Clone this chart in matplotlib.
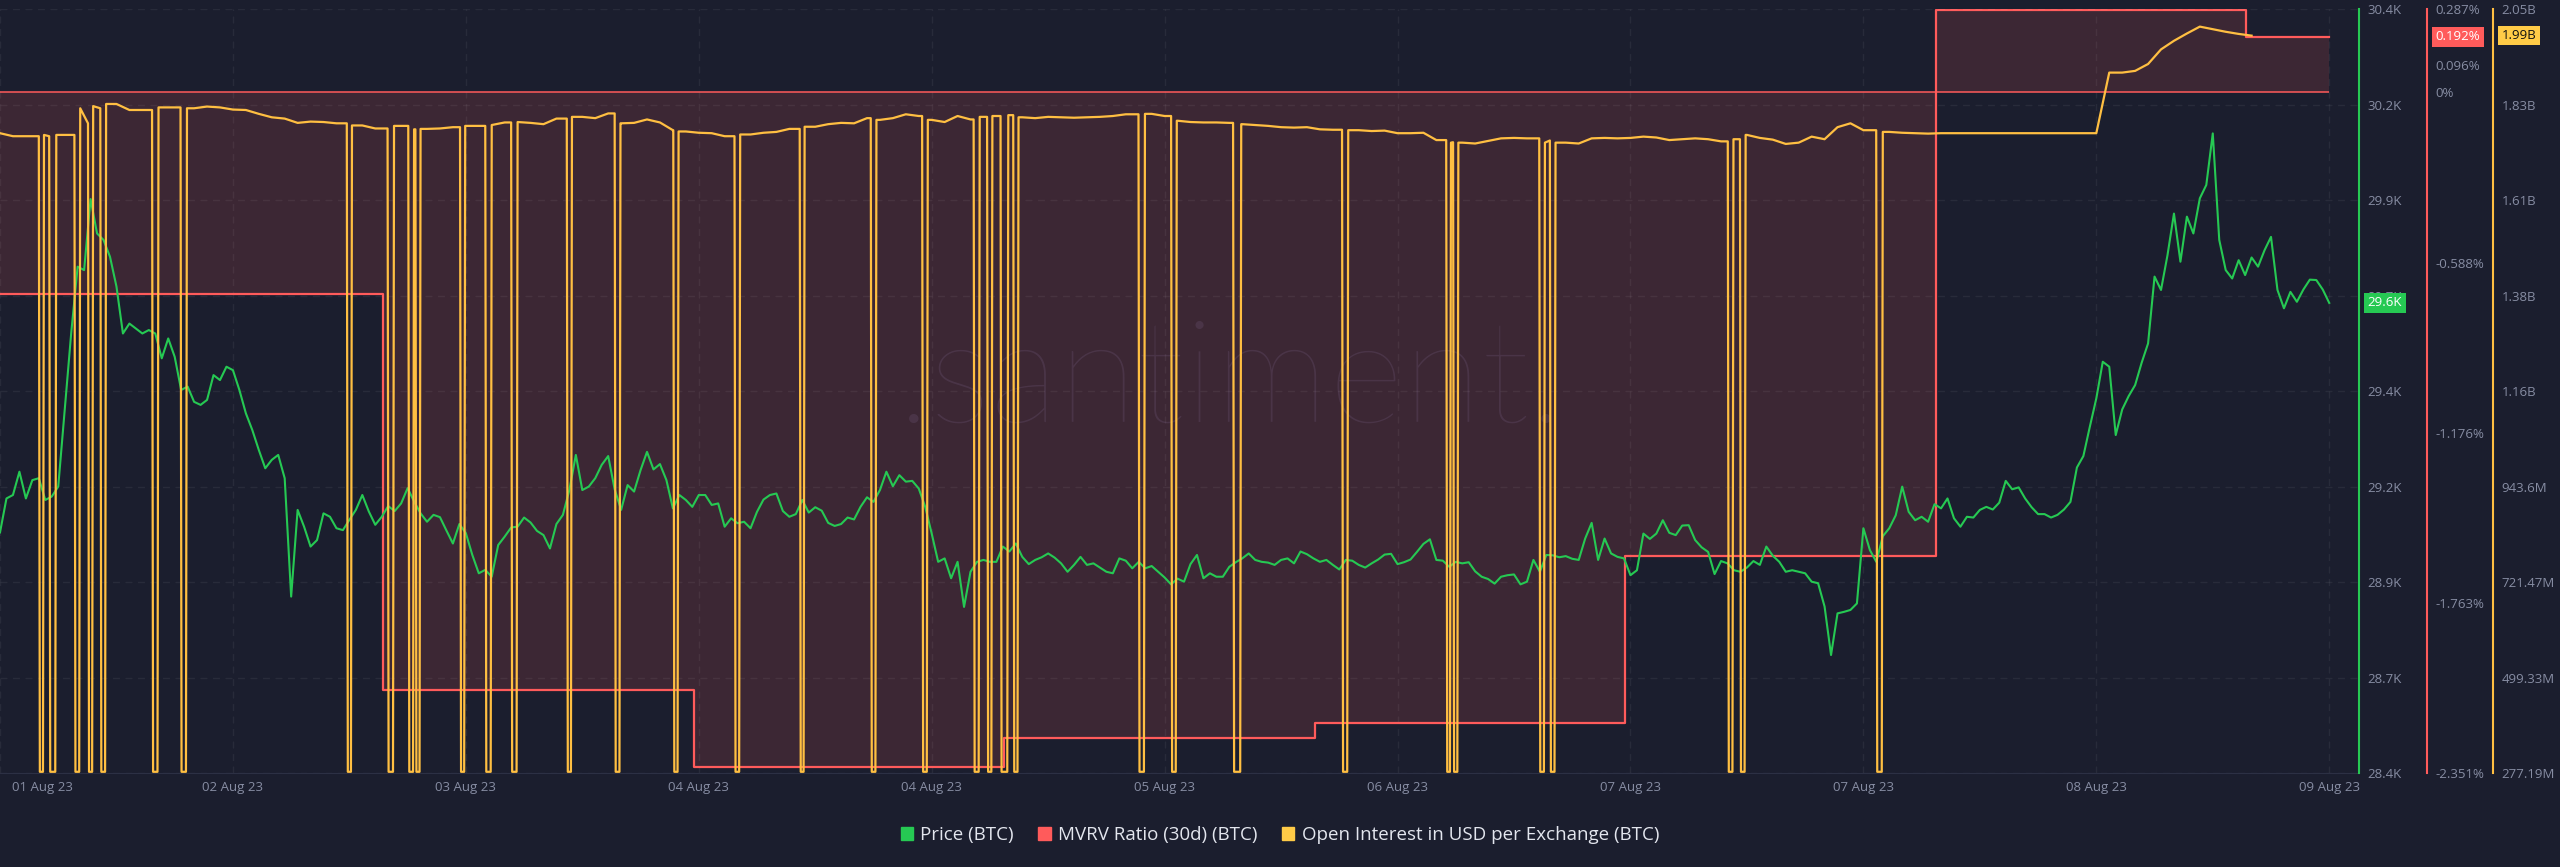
import numpy as np
import matplotlib
matplotlib.use('Agg')
import matplotlib.pyplot as plt
from matplotlib.patches import Patch
from matplotlib.transforms import blended_transform_factory, ScaledTranslation

plt.rcParams['font.family'] = ['Open Sans', 'DejaVu Sans']

BG = '#1b1e2e'
GREEN = '#26c953'
RED = '#ff5b5b'
YELLOW = '#ffbf42'
TXT = '#878da3'

# BTC price, every 30 min starting 01 Aug 23 ~18:00 (USD)
price = [
    29030, 29119, 29128, 29189, 29119, 29167, 29172, 29115, 29124, 29150, 29351, 29551, 29726, 29717, 29903, 29813, 29796, 29752, 29674, 29551,
    29577, 29564, 29551, 29560, 29551, 29486, 29538, 29490, 29403, 29412, 29372, 29364, 29377, 29442, 29429, 29464, 29455, 29403, 29342, 29298,
    29246, 29198, 29220, 29233, 29172, 28862, 29089, 29045, 28993, 29010, 29080, 29071, 29041, 29036, 29063, 29089, 29128, 29085, 29050, 29071,
    29099, 29086, 29106, 29146, 29111, 29080, 29058, 29076, 29070, 29035, 29001, 29052, 29028, 28971, 28923, 28932, 28914, 28997, 29019, 29043,
    29045, 29069, 29056, 29034, 29023, 28988, 29052, 29076, 29141, 29233, 29141, 29150, 29172, 29207, 29230, 29143, 29089, 29154, 29137, 29193,
    29241, 29195, 29209, 29167, 29093, 29128, 29115, 29097, 29128, 29128, 29102, 29106, 29045, 29067, 29054, 29058, 29041, 29084, 29116, 29128,
    29132, 29086, 29071, 29078, 29115, 29082, 29096, 29087, 29055, 29047, 29052, 29069, 29064, 29097, 29122, 29110, 29141, 29189, 29151, 29180,
    29163, 29165, 29145, 29097, 29027, 28953, 28962, 28910, 28953, 28835, 28927, 28953, 28958, 28953, 28953, 28993, 28980, 29001, 28966, 28947,
    28958, 28965, 28975, 28964, 28949, 28927, 28945, 28966, 28945, 28949, 28938, 28927, 28923, 28962, 28956, 28936, 28953, 28936, 28942, 28927,
    28912, 28894, 28909, 28901, 28947, 28971, 28910, 28923, 28914, 28914, 28940, 28952, 28962, 28975, 28958, 28953, 28951, 28945, 28958, 28962,
    28949, 28980, 28973, 28962, 28953, 28958, 28945, 28933, 28958, 28956, 28945, 28938, 28949, 28959, 28972, 28974, 28947, 28952, 28959, 28979,
    29000, 29012, 28958, 28956, 28940, 28953, 28949, 28952, 28928, 28914, 28908, 28896, 28914, 28918, 28920, 28894, 28901, 28958, 28927, 28971,
    28970, 28965, 28968, 28961, 28958, 29014, 29055, 28958, 29014, 28975, 28966, 28962, 28918, 28931, 29027, 29013, 29027, 29062, 29029, 29023,
    29048, 29049, 29010, 28991, 28979, 28921, 28955, 28949, 28931, 28927, 28938, 28955, 28945, 28993, 28969, 28953, 28927, 28931, 28927, 28923,
    28901, 28897, 28836, 28709, 28818, 28822, 28827, 28844, 29041, 28984, 28953, 29020, 29041, 29075, 29150, 29084, 29062, 29071, 29058, 29104,
    29093, 29119, 29067, 29045, 29071, 29069, 29089, 29097, 29090, 29108, 29165, 29143, 29148, 29119, 29096, 29078, 29078, 29069, 29076, 29090,
    29110, 29200, 29230, 29307, 29381, 29477, 29464, 29285, 29352, 29387, 29416, 29474, 29525, 29700, 29665, 29756, 29865, 29739, 29857, 29813,
    29905, 29940, 30075, 29796, 29717, 29695, 29743, 29704, 29750, 29726, 29769, 29804, 29665, 29617, 29660, 29634, 29666, 29692, 29691, 29666,
    29631,
]
price_hours = np.arange(len(price)) * 0.5

# MVRV ratio (30d), one value per day, in %
mvrv_start = [0, 29.6, 53.6, 77.6, 101.6, 125.6, 149.6, 173.6]
mvrv_value = [-0.696, -2.064, -2.329, -2.231, -2.179, -1.600, 0.285, 0.192]

# open interest, hourly (million USD)
oi_level = [
    1766, 1759, 1759, 1759, 1762, 1762, 1789, 1824, 1829, 1834,
    1820, 1820, 1820, 1826, 1800, 1824, 1828, 1826, 1821, 1820,
    1811, 1803, 1800, 1790, 1793, 1792, 1789, 1787, 1784, 1777,
    1780, 1783, 1775, 1776, 1777, 1780, 1783, 1783, 1785, 1791,
    1792, 1790, 1787, 1800, 1812, 1804, 1801, 1812, 1789, 1790,
    1798, 1791, 1773, 1770, 1767, 1766, 1759, 1759, 1763, 1767,
    1769, 1776, 1781, 1781, 1787, 1790, 1789, 1801, 1797, 1801,
    1810, 1806, 1797, 1792, 1806, 1798, 1804, 1806, 1808, 1803,
    1801, 1804, 1803, 1802, 1803, 1804, 1806, 1810, 1810, 1811,
    1806, 1795, 1792, 1791, 1791, 1790, 1787, 1785, 1783, 1780,
    1779, 1780, 1775, 1774, 1773, 1773, 1771, 1772, 1766, 1766,
    1767, 1750, 1745, 1744, 1742, 1748, 1754, 1755, 1754, 1749,
    1744, 1744, 1742, 1754, 1755, 1754, 1755, 1758, 1756, 1750,
    1752, 1754, 1752, 1747, 1752, 1762, 1755, 1751, 1741, 1744,
    1758, 1752, 1780, 1789, 1773, 1762, 1769, 1767, 1766, 1765,
    1766, 1766, 1766, 1766, 1766, 1766, 1766, 1766, 1766, 1766,
    1766, 1766, 1766, 1907, 1907, 1911, 1927, 1961, 1981, 1998,
    2014, 2008, 2002, 1997, 1993,
]
oi_hours = np.arange(len(oi_level))
# periods (start, end hour) where the feed drops to the floor value
oi_gaps = [
    (3.0, 3.4), (3.8, 4.35), (5.75, 6.2), (6.8, 7.2), (7.75, 8.2), (11.75, 12.25),
    (13.95, 14.45), (26.8, 27.2), (29.95, 30.45), (31.55, 32.0), (32.1, 32.5),
    (35.55, 35.95), (37.5, 38.0), (39.5, 40.0), (43.8, 44.2), (47.5, 47.95),
    (52.03, 52.44), (56.76, 57.2), (61.8, 62.18), (67.29, 67.73), (71.26, 71.7),
    (75.24, 75.71), (76.28, 76.69), (77.32, 77.92), (78.3, 78.71), (87.98, 88.48),
    (90.5, 90.94), (95.29, 95.92), (103.71, 104.19), (111.76, 112.13),
    (112.29, 112.7), (118.95, 119.39), (119.77, 120.21), (133.52, 133.96),
    (134.46, 134.9), (144.99, 145.5),
]
oi_floor = 280

x_tick_labels = ['01 Aug 23', '02 Aug 23', '03 Aug 23', '04 Aug 23', '04 Aug 23', '05 Aug 23',
                 '06 Aug 23', '07 Aug 23', '07 Aug 23', '08 Aug 23', '09 Aug 23']
price_tick_labels = ['28.4K', '28.7K', '28.9K', '29.2K', '29.4K', '29.7K', '29.9K', '30.2K', '30.4K']
mvrv_ticks = [-2.351, -1.763, -1.176, -0.588, 0, 0.096, 0.192, 0.287]
mvrv_tick_labels = ['-2.351%', '-1.763%', '-1.176%', '-0.588%', '0%', '0.096%', '0.192%', '0.287%']
oi_tick_labels = ['277.19M', '499.33M', '721.47M', '943.6M', '1.16B', '1.38B', '1.61B', '1.83B', '2.05B']

# build OI line with the drop-outs
pts = [(h, v) for h, v in zip(oi_hours, oi_level)
       if not any(s <= h <= e for s, e in oi_gaps)]
for s, e in oi_gaps:
    pts += [(s, oi_level[int(s)]), (s + 0.08, oi_floor),
            (e - 0.08, oi_floor), (e, oi_level[int(np.ceil(e))])]
pts.sort()
oi_t = [p[0] for p in pts]
oi_v = [p[1] for p in pts]

fig = plt.figure(figsize=(25.6, 8.67), dpi=100, facecolor=BG)
W = 2359.0
ax_m = fig.add_axes([0, 1 - 773 / 867, W / 2560, (773 - 9.3) / 867])
ax_m.set_facecolor(BG)
ax_p = ax_m.twinx()
ax_o = ax_m.twinx()

# MVRV area
mx = mvrv_start + [price_hours[-1]]
my = mvrv_value + [mvrv_value[-1]]
ax_m.fill_between(mx, my, 0, step='post', color=RED, alpha=0.15, lw=0, zorder=1)
ax_m.step(mx, my, where='post', color=RED, lw=1.6, zorder=3)
ax_m.hlines(0, mx[0], mx[-1], color=RED, lw=1.1, zorder=3)
ax_m.set_ylim(-2.351, 0.287)

# watermark
ax_m.text(1230 / 2560, 1 - 422 / 867, '.santiment.', transform=fig.transFigure,
          ha='center', va='baseline', fontsize=104, fontweight='light', family='Lato',
          color='#b39ad8', alpha=0.12, zorder=1.2)

ax_p.plot(price_hours, price, color=GREEN, lw=1.5, zorder=3)
ax_p.set_ylim(28400, 30400)

ax_o.plot(oi_t, oi_v, color=YELLOW, lw=1.6, zorder=3)
ax_o.set_ylim(277.19, 2054.3)

ax_m.set_xlim(0, 182.3)
ax_m.set_xticks(np.arange(0, 181, 18))
ax_m.set_xticklabels(x_tick_labels)
ax_m.tick_params(axis='x', length=0, pad=6, labelsize=9.5, labelcolor=TXT)
first = ax_m.get_xticklabels()[0]
first.set_horizontalalignment('left')
first.set_transform(first.get_transform() + ScaledTranslation(0.12, 0, fig.dpi_scale_trans))

ax_m.yaxis.tick_right()
ax_m.set_yticks(mvrv_ticks)
ax_m.set_yticklabels(mvrv_tick_labels)
ax_p.set_yticks(np.linspace(28400, 30400, 9))
ax_p.set_yticklabels(price_tick_labels)
ax_o.set_yticks(np.linspace(277.19, 2054.3, 9))
ax_o.set_yticklabels(oi_tick_labels)

grid_kw = dict(color='#ffffff', alpha=0.06, linestyle=(0, (5, 4)), lw=1)
ax_m.xaxis.grid(True, **grid_kw)
ax_p.yaxis.grid(True, **grid_kw)

for a in (ax_m, ax_p, ax_o):
    a.spines['top'].set_visible(False)
    a.spines['left'].set_visible(False)
    a.tick_params(axis='y', length=0, pad=6, labelsize=9.5, labelcolor=TXT)
ax_m.spines['bottom'].set_color('#2c3044')
ax_p.spines['bottom'].set_visible(False)
ax_o.spines['bottom'].set_visible(False)
ax_p.spines['right'].set_color(GREEN)
ax_p.spines['right'].set_linewidth(1.5)
ax_m.spines['right'].set_position(('axes', 2427 / W))
ax_m.spines['right'].set_color(RED)
ax_m.spines['right'].set_linewidth(1.5)
ax_o.spines['right'].set_position(('axes', 2493 / W))
ax_o.spines['right'].set_color(YELLOW)
ax_o.spines['right'].set_linewidth(1.5)

# last-value badges
def badge(ax, xpx, val, text, fc, tc):
    tr = blended_transform_factory(ax.transAxes, ax.transData)
    ax.text(xpx / W, val, text, transform=tr, ha='center', va='center',
            fontsize=9.5, color=tc, zorder=10, clip_on=False,
            bbox=dict(boxstyle='square,pad=0.25', fc=fc, ec='none'))

badge(ax_p, 2385, price[-1], f'{price[-1] / 1000:.1f}K', GREEN, 'white')
badge(ax_m, 2458, mvrv_value[-1], f'{mvrv_value[-1]:.3f}%', RED, 'white')
badge(ax_o, 2519, oi_level[-1], f'{oi_level[-1] / 1000:.2f}B', '#ffcb47', '#111111')

handles = [Patch(color=GREEN), Patch(color=RED), Patch(color='#ffcb47')]
labels = ['Price (BTC)', 'MVRV Ratio (30d) (BTC)', 'Open Interest in USD per Exchange (BTC)']
fig.legend(handles, labels, loc='center', bbox_to_anchor=(0.5, 1 - 835 / 867), ncol=3,
           frameon=False, fontsize=13.5, handlelength=0.65, handleheight=0.65,
           handletextpad=0.4, columnspacing=1.3, labelcolor='#e3e6ee')

fig.savefig('out.png', dpi=100, facecolor=BG)
plt.close(fig)
